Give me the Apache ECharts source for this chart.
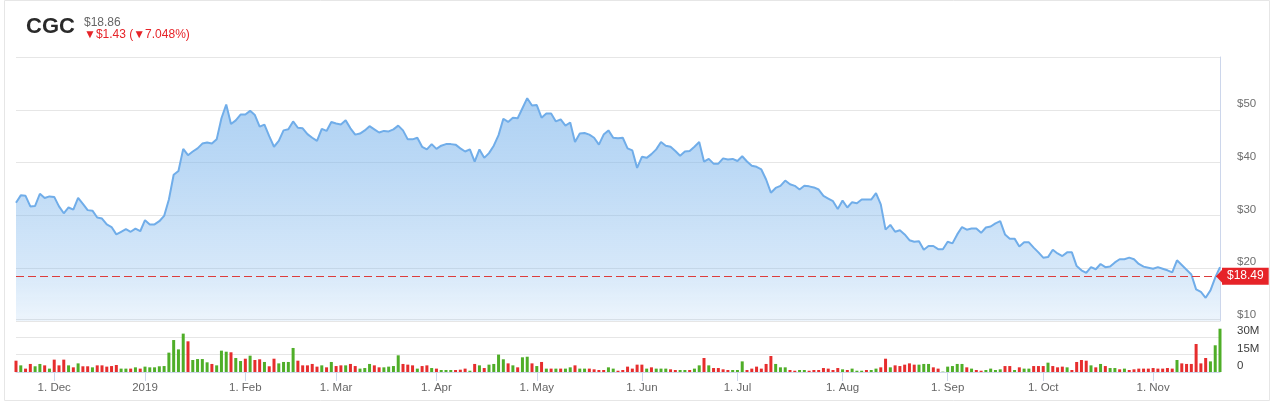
<!DOCTYPE html>
<html><head><meta charset="utf-8">
<script src="https://cdn.jsdelivr.net/npm/echarts@6/dist/echarts.min.js"></script>
<style>html,body{margin:0;padding:0;background:#fff}#c{width:1277px;height:406px}</style>
</head><body><div id="c"></div>
<script>
const ticker = 'CGC';
const headerPrice = '$18.86';
const headerChange = '\u25BC$1.43 (\u25BC7.048%)';
const lastPrice = 18.49;
const startDay = [2018, 10, 20];   // 20 Nov 2018 (month 0-based)
const endDay = [2019, 10, 21];     // 21 Nov 2019
const holidays = ['2018-11-22','2018-12-05','2018-12-25','2019-01-01','2019-01-21','2019-02-18','2019-04-19','2019-05-27','2019-07-04','2019-09-02'];
const monthNames = ['Jan','Feb','Mar','Apr','May','Jun','Jul','Aug','Sep','Oct','Nov','Dec'];
const priceMin = 10, priceMax = 60, priceStep = 10;
const volMin = 0, volMax = 45, volStep = 15;

const closes = [
 32.4,33.8,33.7,31.7,31.8,34.1,33.3,33.6,33.5,31.7,
 30.4,31.5,31.1,33.3,32.2,31.0,30.9,29.6,29.4,28.3,
 27.8,26.4,26.9,27.4,26.9,27.5,27.0,29.1,28.3,28.3,
 28.9,29.9,33.0,37.7,38.4,42.6,41.4,42.1,42.7,43.6,
 43.8,43.6,44.4,48.4,51.0,47.3,48.0,49.1,49.1,49.8,
 49.0,46.8,47.2,45.0,43.0,44.1,46.1,46.3,47.8,46.6,
 46.5,45.4,44.7,44.1,46.4,46.0,47.7,47.4,47.2,48.0,
 46.5,45.3,45.5,46.1,46.9,46.3,45.7,46.0,45.9,46.3,
 47.0,46.1,44.4,44.4,44.7,43.0,42.5,43.5,42.6,43.2,
 43.5,43.5,43.4,42.7,42.1,42.5,40.2,42.5,40.9,41.8,
 43.2,45.2,48.3,47.7,48.5,48.4,50.3,52.2,50.8,50.9,
 48.5,49.3,49.3,47.8,48.2,47.0,47.6,43.9,45.5,45.6,
 45.3,44.7,43.4,45.3,46.1,44.7,44.6,44.7,42.7,42.3,
 39.0,41.1,40.9,41.6,42.5,43.9,43.2,43.0,42.2,41.3,
 42.1,42.2,43.0,43.9,40.2,40.7,39.8,39.8,40.8,40.6,
 40.7,40.3,41.2,40.2,39.4,39.2,38.7,36.8,34.3,35.2,
 35.6,36.6,35.9,35.6,34.9,35.6,35.5,35.3,34.9,33.7,
 33.2,32.7,31.2,32.8,31.5,32.5,32.3,33.0,33.0,33.0,
 34.2,32.1,27.3,28.2,26.9,27.2,26.4,25.3,25.0,25.1,
 23.5,24.2,24.2,23.6,23.6,25.0,24.7,26.4,27.8,27.3,
 27.5,27.5,26.7,27.7,27.9,28.5,28.9,26.4,25.6,25.6,
 24.1,24.9,24.9,23.9,23.0,22.0,22.1,23.5,22.8,22.3,
 23.0,23.0,20.4,19.6,19.1,20.2,19.8,20.8,20.2,20.3,
 21.1,21.7,21.7,22.0,21.7,20.8,20.3,20.1,19.9,20.2,
 19.9,19.6,19.2,21.5,20.6,19.7,18.8,16.0,15.5,14.4,
 15.8,18.2,20.2
];

// volume in millions
const volumes = [
 9.7,5.7,2.9,6.9,4.9,6.9,5.7,2.9,10.6,5.7,
 10.6,5.7,4.0,7.4,4.9,4.9,4.0,5.7,5.7,4.6,
 5.1,6.0,2.9,2.9,2.9,4.0,2.9,4.6,4.0,4.0,
 4.9,5.1,16.6,27.4,19.4,32.9,26.3,10.3,11.1,11.1,
 8.3,6.9,5.7,18.3,17.4,16.9,12.0,9.4,11.4,14.0,
 10.3,10.9,8.6,4.9,11.4,7.4,8.6,8.6,20.6,9.7,
 5.7,5.7,6.9,4.6,5.7,4.0,8.6,5.1,5.7,5.7,
 6.9,5.1,2.9,3.4,6.9,5.7,4.0,4.0,4.6,5.1,
 14.3,6.9,6.3,5.7,2.9,5.1,5.7,3.4,2.9,1.7,
 1.7,1.7,1.7,2.0,2.9,1.1,6.9,5.7,3.4,6.3,
 6.9,14.9,10.9,7.4,5.7,4.0,12.6,13.1,7.4,5.1,
 8.6,2.9,2.9,2.9,2.9,2.9,4.0,5.7,2.9,2.9,
 2.9,2.3,1.7,1.7,4.0,2.9,1.1,1.7,4.6,2.9,
 6.3,6.3,2.9,4.0,2.9,2.9,2.9,2.3,1.7,1.7,
 1.7,1.7,2.9,5.7,12.0,5.7,3.4,3.4,2.3,1.7,
 1.7,1.7,9.1,1.7,2.9,4.6,2.9,6.9,13.7,6.9,
 4.0,4.0,1.7,1.1,1.7,1.7,1.1,1.7,1.7,3.4,
 2.9,1.7,3.4,2.3,1.7,2.9,1.1,1.1,1.7,1.7,
 2.9,4.0,11.4,4.0,5.7,5.1,6.3,7.4,6.3,6.3,
 6.9,6.9,4.0,2.9,0.3,4.6,5.1,6.9,6.9,4.0,
 2.9,1.7,1.1,1.7,2.9,1.7,2.3,5.1,5.1,1.7,
 4.0,2.9,2.9,5.1,5.1,5.1,8.0,5.1,4.0,4.6,
 4.0,1.7,8.6,10.3,9.7,5.7,4.0,6.9,5.1,3.4,
 3.4,2.3,2.9,1.7,2.3,2.9,2.9,2.9,3.4,2.9,
 2.9,3.4,2.9,10.3,7.4,6.9,6.9,24.0,7.4,12.0,
 9.1,22.9,37.1
];

// 1 = up day (green bar), 0 = down day (red bar)
const volumeUp = [
 0,1,0,0,1,1,0,1,0,0,
 0,1,0,1,0,0,1,0,0,0,
 0,0,1,1,0,1,0,1,1,1,
 1,1,1,1,1,1,0,1,1,1,
 1,0,1,1,1,0,1,1,0,1,
 0,0,1,0,0,1,1,1,1,0,
 0,0,0,0,1,0,1,0,0,1,
 0,0,1,1,1,0,0,1,1,1,
 1,0,0,0,1,0,0,1,0,1,
 1,1,0,0,0,1,0,1,0,1,
 1,1,1,0,1,0,1,1,0,1,
 0,1,0,1,0,1,1,0,1,1,
 0,0,0,0,1,1,0,0,0,0,
 0,0,1,0,1,1,1,0,0,1,
 1,0,1,1,0,1,0,0,0,0,
 1,1,1,0,0,0,0,0,0,1,
 1,1,0,0,1,1,0,0,0,0,
 0,0,0,1,0,1,1,1,0,1,
 1,0,0,1,0,0,0,0,0,1,
 1,1,0,0,1,1,1,1,1,0,
 1,0,0,1,1,1,1,0,0,1,
 0,1,1,0,0,0,1,0,0,0,
 1,0,0,0,0,1,0,1,0,1,
 1,0,1,0,0,0,0,0,0,0,
 0,0,0,1,0,0,0,0,0,0,
 1,1,1
];

// trading-day calendar (weekdays minus exchange holidays)
function buildDates() {
  const out = [];
  let t = Date.UTC(startDay[0], startDay[1], startDay[2]);
  const end = Date.UTC(endDay[0], endDay[1], endDay[2]);
  while (t <= end) {
    const d = new Date(t);
    const wd = d.getUTCDay();
    const s = d.toISOString().slice(0, 10);
    if (wd !== 0 && wd !== 6 && holidays.indexOf(s) < 0) out.push(s);
    t += 86400000;
  }
  return out;
}
const dates = buildDates();
const monthStarts = new Set();
dates.forEach((d, i) => { if (i > 0 && d.slice(0, 7) !== dates[i - 1].slice(0, 7)) monthStarts.add(i); });

const RED = '#e62d2d', GREEN = '#4fae28', PRICE_RED = '#e62328';
const FONT = '"Liberation Sans", Arial, Helvetica, sans-serif';
const PLOT_TOP = 57, PLOT_H = 264;

const chart = echarts.init(document.getElementById('c'), null, { renderer: 'canvas', width: 1277, height: 406 });
chart.setOption({
  animation: false,
  textStyle: { fontFamily: FONT },
  grid: [
    { left: 16, right: 57, top: PLOT_TOP, height: PLOT_H },
    { left: 16, right: 57, top: 319.5, height: 52.5 }
  ],
  xAxis: [
    { type: 'category', gridIndex: 0, data: dates, boundaryGap: false,
      axisLine: { show: false }, axisTick: { show: false }, axisLabel: { show: false }, splitLine: { show: false } },
    { type: 'category', gridIndex: 1, data: dates, boundaryGap: false,
      axisLine: { show: true, lineStyle: { color: '#ccd6eb', width: 1 } },
      axisTick: { show: true, length: 9, interval: (i) => monthStarts.has(i), lineStyle: { color: '#ccd6eb' } },
      axisLabel: { show: true, interval: (i) => monthStarts.has(i), margin: 10, color: '#666666', fontSize: 11.5,
        formatter: (v) => { const m = +v.slice(5, 7); return m === 1 ? v.slice(0, 4) : '1. ' + monthNames[m - 1]; } },
      splitLine: { show: false } }
  ],
  yAxis: [
    { type: 'value', gridIndex: 0, position: 'right', min: priceMin, max: priceMax, interval: priceStep,
      axisLine: { show: true, lineStyle: { color: '#ccd6eb' } }, axisTick: { show: false },
      splitLine: { show: true, lineStyle: { color: '#e6e6e6', width: 1 } },
      axisLabel: { margin: 17, color: '#6e6e6e', fontSize: 11.5, verticalAlign: 'bottom', align: 'left',
        formatter: (v) => v === priceMax ? '' : '$' + v } },
    { type: 'value', gridIndex: 1, position: 'right', min: volMin, max: volMax, interval: volStep,
      axisLine: { show: false }, axisTick: { show: false },
      splitLine: { show: true, lineStyle: { color: '#e6e6e6', width: 1 } },
      axisLabel: { margin: 17, color: '#3c3c3c', fontSize: 11.5, verticalAlign: 'bottom', align: 'left', lineHeight: 12,
        formatter: (v) => v === volMax ? '' : (v === 0 ? '0' : v + 'M') } }
  ],
  series: [
    { type: 'line', xAxisIndex: 0, yAxisIndex: 0, data: closes, symbol: 'none', smooth: false,
      lineStyle: { color: '#70ade9', width: 2 }, itemStyle: { color: '#70ade9' },
      areaStyle: { origin: 'start', color: new echarts.graphic.LinearGradient(0, PLOT_TOP, 0, PLOT_TOP + PLOT_H, [
        { offset: 0, color: 'rgba(124,181,236,0.95)' }, { offset: 0.4, color: 'rgba(124,181,236,0.75)' },
        { offset: 0.8, color: 'rgba(124,181,236,0.45)' }, { offset: 1, color: 'rgba(124,181,236,0.2)' } ], true) },
      markLine: { silent: true, symbol: ['none', 'none'], animation: false,
        lineStyle: { color: '#dc3c3c', type: [8, 4], width: 1, opacity: 1 },
        label: { show: true, position: 'end', distance: 2, formatter: '$' + lastPrice.toFixed(2),
          color: '#ffffff', backgroundColor: PRICE_RED, padding: [3, 5, 2, 5], fontSize: 12, fontFamily: FONT },
        data: [{ yAxis: lastPrice }] },
      markPoint: { silent: true, symbol: 'triangle', symbolSize: [17, 8], symbolRotate: 90,
        itemStyle: { color: PRICE_RED }, label: { show: false },
        data: [{ coord: [dates[dates.length - 1], lastPrice] }] }
    },
    { type: 'bar', xAxisIndex: 1, yAxisIndex: 1, barWidth: 3,
      data: volumes.map((v, i) => ({ value: v, itemStyle: { color: volumeUp[i] ? GREEN : RED } })) }
  ],
  graphic: [
    { type: 'rect', silent: true, z: -10, shape: { x: 4.5, y: 0.5, width: 1265, height: 400 },
      style: { fill: 'none', stroke: '#e6e6e6', lineWidth: 1 } },
    { type: 'text', left: 26, top: 16, style: { text: ticker, font: 'bold 22px ' + FONT, fill: '#2a2a2a' } },
    { type: 'text', left: 84, top: 17, style: { text: headerPrice, font: '12px ' + FONT, fill: '#666666' } },
    { type: 'text', left: 84, top: 29, style: { text: headerChange, font: '12px ' + FONT, fill: PRICE_RED } }
  ]
});
</script>
</body></html>
